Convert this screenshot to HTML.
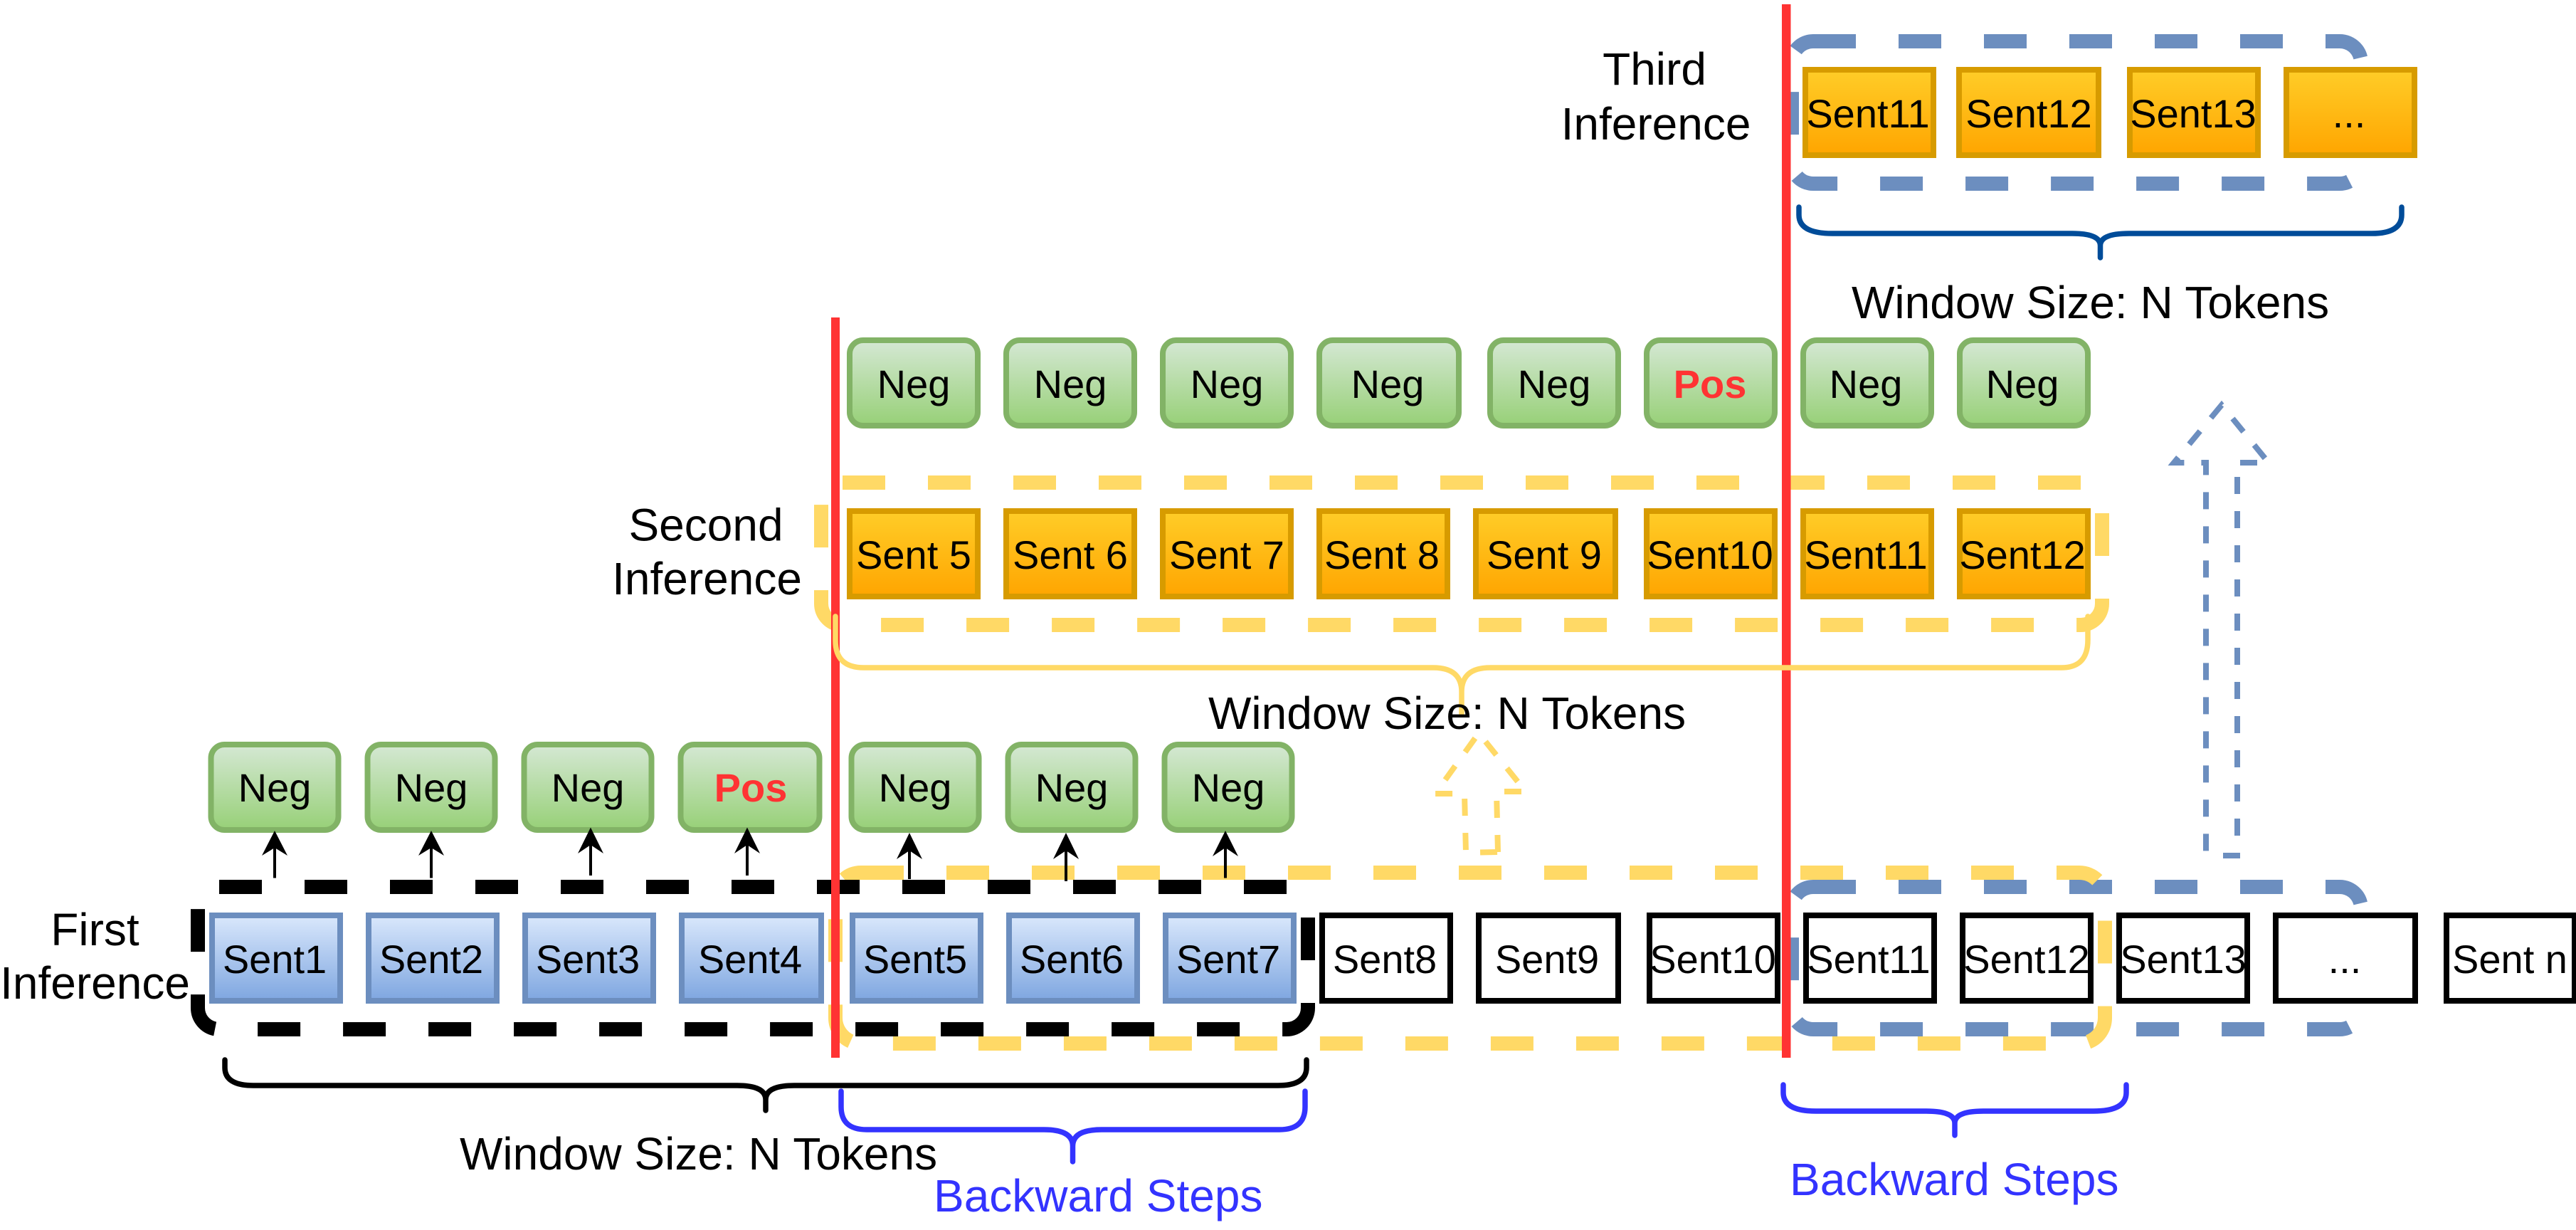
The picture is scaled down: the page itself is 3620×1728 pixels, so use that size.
<!DOCTYPE html>
<html><head><meta charset="utf-8"><title>Sliding window inference</title>
<style>
html,body{margin:0;padding:0;background:#fff;width:3620px;height:1728px;overflow:hidden}
svg{display:block}
text{font-family:"Liberation Sans",Arial,sans-serif;fill:#000}
.s{font-size:56px;text-anchor:middle}
.p{font-size:56px;text-anchor:middle;font-weight:bold;fill:#FF3333}
.l{font-size:64px}
.m{font-size:64px;text-anchor:middle}
.b{font-size:64px;fill:#3333FF}
.bb{fill:url(#gb);stroke:#6C8EBF;stroke-width:8}
.bo{fill:url(#go);stroke:#D79B00;stroke-width:8}
.bg{fill:url(#gg);stroke:#82B366;stroke-width:8}
.bw{fill:#fff;stroke:#000;stroke-width:8}
.d{fill:none;stroke-width:20;stroke-dasharray:60 60}
.br{fill:none;stroke-width:7.5;stroke-linecap:round}
</style></head><body>
<svg xmlns="http://www.w3.org/2000/svg" width="3620" height="1728" viewBox="0 0 3620 1728">
<defs>
<linearGradient id="gb" x1="0" y1="0" x2="0" y2="1"><stop offset="0" stop-color="#DAE8FC"/><stop offset="1" stop-color="#7EA6E0"/></linearGradient>
<linearGradient id="go" x1="0" y1="0" x2="0" y2="1"><stop offset="0" stop-color="#FFCD28"/><stop offset="1" stop-color="#FFA500"/></linearGradient>
<linearGradient id="gg" x1="0" y1="0" x2="0" y2="1"><stop offset="0" stop-color="#D5E8D4"/><stop offset="1" stop-color="#97D077"/></linearGradient>
</defs>

<!-- dashed windows -->
<path class="d" stroke="#6C8EBF" d="M2548 1246H3288A30 30 0 0 1 3318 1276V1416A30 30 0 0 1 3288 1446H2548A30 30 0 0 1 2518 1416V1276A30 30 0 0 1 2548 1246Z"/>
<path class="d" stroke="#6C8EBF" d="M2548 58H3288A30 30 0 0 1 3318 88V228A30 30 0 0 1 3288 258H2548A30 30 0 0 1 2518 228V88A30 30 0 0 1 2548 58Z"/>
<path class="d" stroke="#FFD966" d="M1210 1226H2922A36 36 0 0 1 2958 1262V1430A36 36 0 0 1 2922 1466H1210A36 36 0 0 1 1174 1430V1262A36 36 0 0 1 1210 1226Z"/>
<path class="d" stroke="#FFD966" d="M1184 678H2924A30 30 0 0 1 2954 708V848A30 30 0 0 1 2924 878H1184A30 30 0 0 1 1154 848V708A30 30 0 0 1 1184 678Z"/>
<path class="d" stroke="#000" d="M308 1246H1808A30 30 0 0 1 1838 1276V1416A30 30 0 0 1 1808 1446H308A30 30 0 0 1 278 1416V1276A30 30 0 0 1 308 1246Z"/>

<!-- dashed block arrows -->
<path fill="none" stroke="#6C8EBF" stroke-width="8" stroke-dasharray="24 24" stroke-dashoffset="24" d="M3100 1202H3144V650H3188L3122 569L3055 650H3100V1202"/>
<path fill="none" stroke="#FFD966" stroke-width="8" stroke-dasharray="24 24" d="M2105 1197L2103 1112H2144L2078 1030L2017 1115H2058L2060 1198Z"/>

<!-- bottom row -->
<rect class="bb" x="298" y="1286" width="180" height="120"/>
<rect class="bb" x="518" y="1286" width="180" height="120"/>
<rect class="bb" x="738" y="1286" width="180" height="120"/>
<rect class="bb" x="958" y="1286" width="196" height="120"/>
<rect class="bb" x="1198" y="1286" width="180" height="120"/>
<rect class="bb" x="1418" y="1286" width="180" height="120"/>
<rect class="bb" x="1638" y="1286" width="180" height="120"/>
<rect class="bw" x="1858" y="1286" width="180" height="120"/>
<rect class="bw" x="2078" y="1286" width="196" height="120"/>
<rect class="bw" x="2318" y="1286" width="180" height="120"/>
<rect class="bw" x="2538" y="1286" width="180" height="120"/>
<rect class="bw" x="2758" y="1286" width="180" height="120"/>
<rect class="bw" x="2978" y="1286" width="180" height="120"/>
<rect class="bw" x="3198" y="1286" width="196" height="120"/>
<rect class="bw" x="3438" y="1286" width="180" height="120"/>

<!-- row 1 results -->
<rect class="bg" x="296.5" y="1046" width="179" height="120" rx="19"/>
<rect class="bg" x="516.5" y="1046" width="179" height="120" rx="19"/>
<rect class="bg" x="736.5" y="1046" width="179" height="120" rx="19"/>
<rect class="bg" x="956.5" y="1046" width="195" height="120" rx="19"/>
<rect class="bg" x="1196.5" y="1046" width="179" height="120" rx="19"/>
<rect class="bg" x="1416.5" y="1046" width="179" height="120" rx="19"/>
<rect class="bg" x="1636.5" y="1046" width="179" height="120" rx="19"/>

<!-- row 2 results -->
<rect class="bg" x="1194" y="478" width="180" height="120" rx="19"/>
<rect class="bg" x="1414" y="478" width="180" height="120" rx="19"/>
<rect class="bg" x="1634" y="478" width="180" height="120" rx="19"/>
<rect class="bg" x="1854" y="478" width="196" height="120" rx="19"/>
<rect class="bg" x="2094" y="478" width="180" height="120" rx="19"/>
<rect class="bg" x="2314" y="478" width="180" height="120" rx="19"/>
<rect class="bg" x="2534" y="478" width="180" height="120" rx="19"/>
<rect class="bg" x="2754" y="478" width="180" height="120" rx="19"/>

<!-- row 2 sentences -->
<rect class="bo" x="1194" y="718" width="180" height="120"/>
<rect class="bo" x="1414" y="718" width="180" height="120"/>
<rect class="bo" x="1634" y="718" width="180" height="120"/>
<rect class="bo" x="1854" y="718" width="180" height="120"/>
<rect class="bo" x="2074" y="718" width="196" height="120"/>
<rect class="bo" x="2314" y="718" width="180" height="120"/>
<rect class="bo" x="2534" y="718" width="180" height="120"/>
<rect class="bo" x="2754" y="718" width="180" height="120"/>

<!-- row 3 sentences -->
<rect class="bo" x="2537" y="98" width="180" height="120"/>
<rect class="bo" x="2753" y="98" width="196" height="120"/>
<rect class="bo" x="2993" y="98" width="180" height="120"/>
<rect class="bo" x="3213" y="98" width="180" height="120"/>

<!-- arrows -->
<g stroke="#000" stroke-width="4" fill="none">
<path d="M386 1190V1233.5"/><path d="M606 1190V1233.5"/><path d="M830 1186V1230"/><path d="M1050 1186V1230"/><path d="M1278 1194V1235"/><path d="M1498 1194V1238"/><path d="M1722 1190V1233.5"/>
</g>
<g fill="#000">
<path d="M386 1167L404 1202L386 1191L368 1202Z"/>
<path d="M606 1167L624 1202L606 1191L588 1202Z"/>
<path d="M830 1162.5L848 1199L830 1187L812 1199Z"/>
<path d="M1050 1162.5L1068 1199L1050 1187L1032 1199Z"/>
<path d="M1278 1170L1296 1207L1278 1195L1260 1207Z"/>
<path d="M1498 1170L1516 1207L1498 1195L1480 1207Z"/>
<path d="M1722 1167L1740 1203L1722 1191L1704 1203Z"/>
</g>

<!-- red dividers -->
<rect x="1168" y="446" width="12" height="1040" fill="#FF3333"/>
<rect x="2504" y="6" width="12.5" height="1480" fill="#FF3333"/>

<!-- braces -->
<path class="br" stroke="#000" d="M316 1489V1500Q316 1525 356 1525H1036Q1076 1525 1076 1545V1560M1076 1545Q1076 1525 1116 1525H1796Q1836 1525 1836 1500V1489"/>
<path class="br" stroke="#3333FF" stroke-linecap="butt" d="M1182 1533V1555Q1182 1587 1218 1587H1467Q1507.500 1587 1507.500 1610V1632M1507.500 1610Q1507.500 1587 1548 1587H1798Q1834 1587 1834 1555V1533"/>
<path class="br" stroke="#3333FF" d="M2506 1524V1535Q2506 1561 2552 1561H2707Q2747 1561 2747 1578V1595M2747 1578Q2747 1561 2787 1561H2942Q2988 1561 2988 1535V1524"/>
<path class="br" stroke="#FFD966" d="M1174 866V900Q1174 938 1214 938H2014Q2054 938 2054 972V1003M2054 972Q2054 938 2094 938H2897Q2934 938 2934 899V866"/>
<path class="br" stroke="#004C99" d="M2528 291V302Q2528 328 2575 328H2912Q2951.500 328 2951.500 345V362M2951.500 345Q2951.500 328 2992 328H3333Q3375 328 3375 302V291"/>

<!-- bottom row labels -->
<text class="s" x="386" y="1367">Sent1</text>
<text class="s" x="606" y="1367">Sent2</text>
<text class="s" x="826" y="1367">Sent3</text>
<text class="s" x="1054" y="1367">Sent4</text>
<text class="s" x="1286" y="1367">Sent5</text>
<text class="s" x="1506" y="1367">Sent6</text>
<text class="s" x="1726" y="1367">Sent7</text>
<text class="s" x="1946" y="1367">Sent8</text>
<text class="s" x="2174" y="1367">Sent9</text>
<text class="s" x="2407" y="1367">Sent10</text>
<text class="s" x="2626" y="1367">Sent11</text>
<text class="s" x="2848" y="1367">Sent12</text>
<text class="s" x="3068" y="1367">Sent13</text>
<text class="s" x="3295" y="1367">...</text>
<text class="s" x="3527" y="1367">Sent n</text>

<!-- row 1 result labels -->
<text class="s" x="386" y="1126">Neg</text>
<text class="s" x="606" y="1126">Neg</text>
<text class="s" x="826" y="1126">Neg</text>
<text class="p" x="1055" y="1126">Pos</text>
<text class="s" x="1286" y="1126">Neg</text>
<text class="s" x="1506" y="1126">Neg</text>
<text class="s" x="1726" y="1126">Neg</text>

<!-- row 2 labels -->
<text class="s" x="1284" y="559">Neg</text>
<text class="s" x="1504" y="559">Neg</text>
<text class="s" x="1724" y="559">Neg</text>
<text class="s" x="1950" y="559">Neg</text>
<text class="s" x="2184" y="559">Neg</text>
<text class="p" x="2403" y="559">Pos</text>
<text class="s" x="2622" y="559">Neg</text>
<text class="s" x="2842" y="559">Neg</text>

<text class="s" x="1284" y="799">Sent 5</text>
<text class="s" x="1504" y="799">Sent 6</text>
<text class="s" x="1724" y="799">Sent 7</text>
<text class="s" x="1942" y="799">Sent 8</text>
<text class="s" x="2170" y="799">Sent 9</text>
<text class="s" x="2403" y="799">Sent10</text>
<text class="s" x="2622" y="799">Sent11</text>
<text class="s" x="2842" y="799">Sent12</text>

<!-- row 3 labels -->
<text class="s" x="2625" y="179">Sent11</text>
<text class="s" x="2851" y="179">Sent12</text>
<text class="s" x="3082" y="179">Sent13</text>
<text class="s" x="3301" y="179">...</text>

<!-- captions -->
<text class="m" x="133.500" y="1328">First</text>
<text class="m" x="133.500" y="1403">Inference</text>
<text class="m" x="992" y="759.500">Second</text>
<text class="m" x="993.500" y="835">Inference</text>
<text class="m" x="2325" y="119">Third</text>
<text class="m" x="2327" y="196">Inference</text>
<text class="l" x="646" y="1643">Window Size: N Tokens</text>
<text class="l" x="1698" y="1024">Window Size: N Tokens</text>
<text class="l" x="2602" y="447">Window Size: N Tokens</text>
<text class="b" x="1312" y="1702">Backward Steps</text>
<text class="b" x="2515" y="1679">Backward Steps</text>
</svg>
</body></html>
